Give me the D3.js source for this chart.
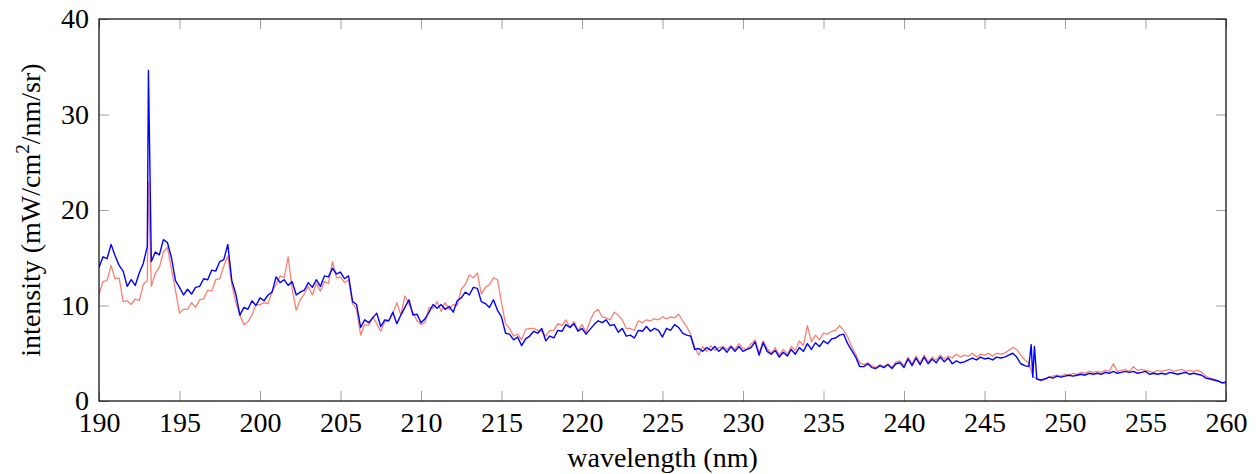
<!DOCTYPE html>
<html>
<head>
<meta charset="utf-8">
<script src="https://cdn.jsdelivr.net/npm/d3@7"></script>
<style>
  body { margin: 0; background: #fff; }
  svg text { font-family: 'Liberation Serif', 'Times New Roman', serif; fill: #000; }
</style>
</head>
<body>
<div id="chart"></div>
<script>
// wavelength grid (nm), 0.25 nm sampling
const wlStart = 190
const wlStep = 0.25

// blue spectrum, one row per nm
const blueValues = [
  14.0, 15.1, 14.9, 16.4,
  15.2, 14.2, 13.6, 12.0,
  12.7, 12.1, 13.4, 14.4,
  16.2, 14.6, 15.6, 15.3,
  16.9, 16.6, 15.0, 12.6,
  11.9, 11.1, 11.7, 11.2,
  11.9, 12.0, 12.8, 12.7,
  13.7, 13.6, 14.6, 14.8,
  16.4, 12.6, 11.2, 9.0,
  9.8, 9.6, 10.5, 10.0,
  10.8, 10.5, 11.1, 11.4,
  13.0, 12.4, 12.7, 12.1,
  12.5, 11.1, 11.4, 11.6,
  12.4, 11.9, 12.7, 12.0,
  13.1, 13.0, 13.9, 13.3,
  13.5, 12.8, 13.1, 10.4,
  10.1, 7.7, 8.5, 8.2,
  8.7, 9.2, 7.8, 8.5,
  8.4, 9.3, 8.1, 9.0,
  9.8, 10.6, 9.0, 9.1,
  8.2, 8.6, 9.3, 10.1,
  9.7, 10.1, 9.6, 9.9,
  9.3, 10.5, 10.8, 11.4,
  11.1, 11.9, 11.8, 10.4,
  10.2, 9.8, 10.6, 9.5,
  8.8, 7.1, 7.0, 6.4,
  6.7, 5.8, 6.5, 6.8,
  7.3, 7.1, 7.6, 6.3,
  6.8, 6.6, 7.4, 7.3,
  8.0, 7.7, 8.1, 7.3,
  7.6, 7.0, 7.5, 8.0,
  8.4, 8.2, 8.5, 7.9,
  8.0, 7.2, 7.6, 6.8,
  6.9, 6.6, 7.4, 7.3,
  7.8, 7.3, 7.6, 7.4,
  6.7, 7.6, 7.4, 8.0,
  7.7, 7.1, 6.9, 6.8,
  5.4, 5.5, 5.2, 5.6,
  5.3, 5.7, 5.2, 5.6,
  5.1, 5.7, 5.2, 5.7,
  5.2, 5.4, 5.6, 6.2,
  4.8, 6.1, 5.2, 4.9,
  5.3, 4.6, 5.1, 4.7,
  5.4, 4.9, 5.6, 5.2,
  6.0, 5.4, 6.1, 5.7,
  6.3, 6.0, 6.5, 6.6,
  6.9, 7.0, 6.0, 5.3,
  4.6, 3.6, 3.6, 3.9,
  3.5, 3.4, 3.7, 3.5,
  3.8, 3.4, 3.9, 4.0,
  3.5, 4.4, 3.7, 4.5,
  3.8, 4.6, 3.9, 4.4,
  4.0, 4.6, 4.1, 4.5,
  3.9, 4.2, 4.0, 4.1,
  4.3, 4.5, 4.3, 4.6,
  4.4, 4.5, 4.3, 4.6,
  4.5, 4.6, 4.8, 5.0,
  4.6, 3.9, 3.7, 3.6,
  2.5, 2.3, 2.2, 2.3,
  2.5, 2.4, 2.6, 2.5,
  2.6, 2.7, 2.6, 2.7,
  2.8, 2.7, 2.9, 2.8,
  2.9, 2.8, 3.0, 2.9,
  3.1, 2.9, 3.0, 3.1,
  3.0, 3.1, 2.9, 3.0,
  3.1, 2.8, 2.9, 2.8,
  2.9, 2.8, 3.0, 2.9,
  2.8, 2.9, 3.0, 2.8,
  2.9, 2.8, 2.7, 2.4,
  2.3, 2.2, 2.1, 1.9,
  2.0
]
// narrow lines between grid samples [wavelength, intensity]
const blueSpikes = [[193.07, 34.6], [247.9, 5.9], [248.1, 5.7]]

// salmon spectrum, one row per nm
const redValues = [
  11.2, 12.5, 12.6, 14.2,
  12.8, 12.9, 10.4, 10.5,
  10.1, 10.7, 10.5, 12.2,
  12.6, 12.0, 13.4, 14.0,
  15.6, 16.1, 13.8, 11.6,
  9.2, 9.6, 9.6, 10.3,
  9.8, 10.6, 10.7, 11.6,
  11.5, 12.7, 12.8, 14.1,
  15.2, 12.2, 10.3, 9.0,
  8.0, 8.3, 9.0, 10.1,
  10.1, 10.3, 10.2, 11.5,
  12.2, 13.1, 12.9, 15.1,
  11.7, 9.5, 10.6, 11.2,
  12.0, 11.1, 12.3, 11.5,
  12.5, 12.3, 14.6, 12.9,
  13.0, 12.4, 12.7, 10.2,
  9.6, 6.9, 8.0, 7.9,
  8.8, 8.1, 7.3, 8.3,
  8.4, 9.2, 10.3, 9.0,
  11.0, 10.1, 9.3, 8.4,
  8.0, 8.2, 9.8, 9.7,
  10.4, 9.4, 10.3, 9.6,
  10.1, 10.0, 11.7, 12.2,
  13.2, 12.9, 13.4, 11.2,
  11.9, 12.2, 12.9, 12.7,
  10.3, 8.1, 7.6, 6.8,
  7.0, 6.4, 7.5, 7.6,
  7.6, 7.4, 7.3, 6.8,
  7.4, 7.4, 8.1, 7.9,
  8.5, 7.7, 8.3, 7.4,
  8.0, 7.2, 8.4, 9.3,
  9.6, 8.8, 8.7, 8.5,
  9.3, 9.0, 8.5, 7.6,
  7.6, 7.4, 8.4, 8.2,
  8.5, 8.4, 8.6, 8.5,
  8.8, 8.6, 8.8, 8.7,
  9.1, 8.4, 7.8, 7.0,
  5.6, 4.8, 5.7, 5.2,
  5.8, 5.3, 5.6, 5.7,
  5.4, 5.8, 5.4, 6.0,
  5.5, 5.4, 6.0, 6.4,
  5.0, 6.3, 5.5, 5.0,
  5.6, 4.8, 5.4, 4.9,
  5.7, 5.3, 6.3, 5.8,
  7.9, 6.2, 6.9, 6.4,
  7.1, 7.0, 7.3, 7.4,
  7.9, 7.4, 6.7, 5.7,
  4.9, 4.0, 3.8, 4.0,
  3.7, 3.5, 3.8, 3.6,
  3.9, 3.5, 4.1, 4.2,
  3.7, 4.6, 3.9, 4.7,
  4.0, 4.8, 4.1, 4.6,
  4.3, 4.8, 4.4, 4.7,
  4.5, 4.9, 4.6, 4.8,
  4.7, 5.0, 4.6, 4.9,
  4.8, 5.0, 4.7, 5.0,
  4.9, 5.0, 5.3, 5.6,
  5.4, 4.8, 4.3, 4.0,
  2.6, 2.3, 2.1, 2.3,
  2.5, 2.6, 2.7, 2.6,
  2.8, 2.7, 2.9, 2.8,
  3.0, 2.9, 3.1, 3.0,
  3.1, 3.0, 3.2, 3.1,
  3.9, 3.1, 3.2, 3.3,
  3.1, 3.6, 3.2, 3.3,
  3.2, 3.1, 3.0, 3.2,
  3.1, 3.2, 3.3, 3.1,
  3.2, 3.3, 3.1, 3.2,
  3.1, 3.2, 3.0, 2.6,
  2.4, 2.3, 2.1, 1.9,
  1.8
]
const redSpikes = [[193.07, 22.9]]

const xTicks = [190, 195, 200, 205, 210, 215, 220, 225, 230, 235, 240, 245, 250, 255, 260]
const yTicks = [0, 10, 20, 30, 40]

function toSeries(values, spikes) {
    const pts = values.map((v, i) => [wlStart + i * wlStep, v])
    return pts.concat(spikes).sort((a, b) => a[0] - b[0])
}

function drawAxisLayer(parent, gc, axis, transform, labels) {
    const g = parent.append('g')
        .attr('transform', transform)
        .call(axis)
        .attr('font-family', null)
        .attr('font-size', null)
    g.select('.domain').remove()
    g.selectAll('.tick line')
        .style('stroke', gc.tick.color)
        .style('stroke-width', gc.tick.width)
    if (labels) {
        g.selectAll('.tick text')
            .style('font-size', gc.font.size)
            .attr('fill', '#000')
    } else {
        g.selectAll('.tick text').remove()
    }
    return g
}

function drawSeries(parent, gc, x, y, data, color, width) {
    const line = d3.line()
        .x(d => x(d[0]))
        .y(d => y(d[1]))
    return parent.append('path')
        .datum(data)
        .attr('d', line)
        .style('fill', 'none')
        .style('stroke', color)
        .style('stroke-width', width)
        .style('stroke-linejoin', 'round')
}

function diagram(node) {
    const gc = {
        width: 1259,
        height: 474,
        margin: { top: 19, right: 33, bottom: 73, left: 99 },
        tick: { color: '#a0a0a0', width: 1, size: 10 },
        font: { size: '28px' },
        red: '#fa8072',
        blue: '#0000ff'
    }
    const w = gc.width - gc.margin.left - gc.margin.right
    const h = gc.height - gc.margin.top - gc.margin.bottom

    const svg = d3.select(node).append('svg')
        .attr('width', gc.width)
        .attr('height', gc.height)

    const x = d3.scaleLinear().domain([190, 260]).range([gc.margin.left, gc.margin.left + w])
    const y = d3.scaleLinear().domain([0, 40]).range([gc.margin.top + h, gc.margin.top])

    svg.append('clipPath').attr('id', 'plot-clip')
        .append('rect')
        .attr('x', gc.margin.left)
        .attr('y', gc.margin.top)
        .attr('width', w)
        .attr('height', h)

    const plot = svg.append('g').attr('clip-path', 'url(#plot-clip)')
    drawSeries(plot, gc, x, y, toSeries(redValues, redSpikes), gc.red, 1.3)
    drawSeries(plot, gc, x, y, toSeries(blueValues, blueSpikes), gc.blue, 1.4)

    // inward ticks on all four sides, labels only bottom and left
    drawAxisLayer(svg, gc, d3.axisBottom(x).tickValues(xTicks).tickSize(-gc.tick.size).tickPadding(11).tickFormat(d3.format('d')),
        `translate(0,${gc.margin.top + h})`, true)
    drawAxisLayer(svg, gc, d3.axisTop(x).tickValues(xTicks).tickSize(-gc.tick.size),
        `translate(0,${gc.margin.top})`, false)
    drawAxisLayer(svg, gc, d3.axisLeft(y).tickValues(yTicks).tickSize(-gc.tick.size).tickPadding(10),
        `translate(${gc.margin.left},0)`, true)
    drawAxisLayer(svg, gc, d3.axisRight(y).tickValues(yTicks).tickSize(-gc.tick.size),
        `translate(${gc.margin.left + w},0)`, false)

    svg.append('rect')
        .attr('x', gc.margin.left)
        .attr('y', gc.margin.top)
        .attr('width', w)
        .attr('height', h)
        .style('fill', 'none')
        .style('stroke', '#000')
        .style('stroke-width', 1.2)

    svg.append('text')
        .attr('x', gc.margin.left + w / 2)
        .attr('y', 467)
        .attr('text-anchor', 'middle')
        .style('font-size', gc.font.size)
        .text('wavelength (nm)')

    const yl = svg.append('text')
        .attr('transform', `translate(40,${gc.margin.top + h / 2}) rotate(-90)`)
        .attr('text-anchor', 'middle')
        .style('font-size', gc.font.size)
    yl.append('tspan').text('intensity (mW/cm')
    yl.append('tspan').attr('dy', -11).style('font-size', '19px').text('2')
    yl.append('tspan').attr('dy', 11).text('/nm/sr)')
}

diagram(document.getElementById('chart'))
</script>
</body>
</html>
